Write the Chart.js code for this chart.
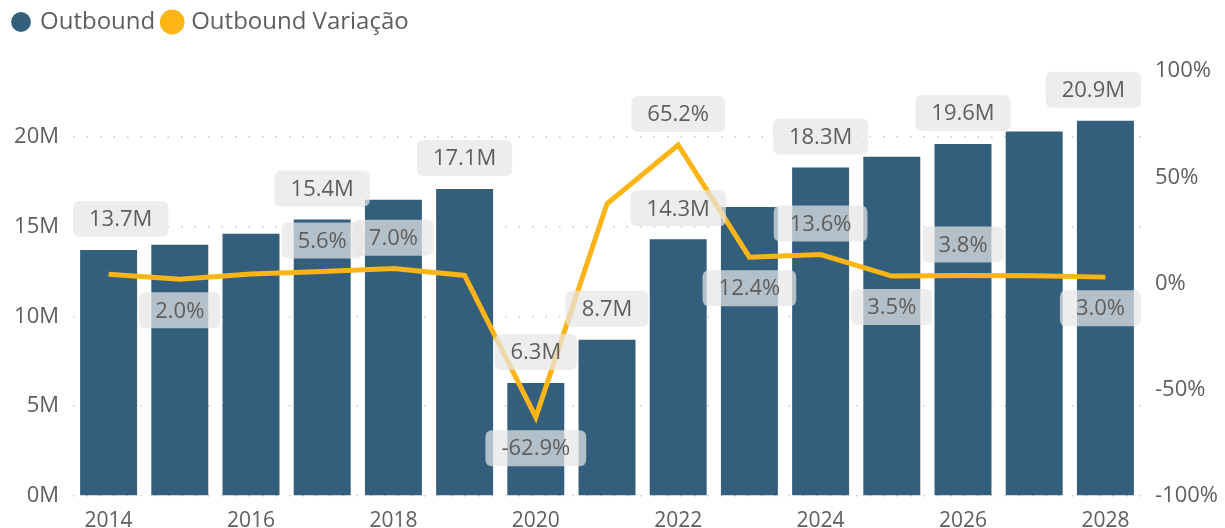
<!DOCTYPE html>
<html>
<head>
<meta charset="utf-8">
<script src="https://cdn.jsdelivr.net/npm/chart.js@4.4.0/dist/chart.umd.min.js"></script>
<style>
  html, body { margin: 0; padding: 0; background: #fff; }
  #wrap { width: 1225px; height: 528px; }
</style>
</head>
<body>
<div id="wrap"><canvas id="outboundChart"></canvas></div>
<script>
// data
var years = ["2014", "2015", "2016", "2017", "2018", "2019", "2020", "2021",
  "2022", "2023", "2024", "2025", "2026", "2027", "2028"];
var outbound = [13.7, 14.0, 14.6, 15.4, 16.5, 17.1, 6.3, 8.7, 14.3, 16.1, 18.3, 18.9, 19.6, 20.3, 20.9]; // millions
var variacao = [4.4, 2.0, 4.5, 5.6, 7.0, 3.8, -62.9, 37.5, 65.2, 12.4, 13.6, 3.5, 3.8, 3.6, 3.0]; // %

// which points get a data label (power bi hides the ones that collide)
var barLabelShown = [true, false, false, true, false, true, true, true, true, false, true, false, true, false, true];
var lineLabelSide = [null, "below", null, "above", "above", null, "below", null, "above", "below", "above", "below", "above", null, "below"];

var leftTicks = [0, 5, 10, 15, 20];
var rightTicks = [-100, -50, 0, 50, 100];

const textGrey = "#605E5C";
const barBlue = "#335F7D";
const lineYellow = "#FDB515";
const fontFam = "'Open Sans', 'Noto Sans', sans-serif";

function roundRect(ctx, x, y, w, h, r) {
  ctx.beginPath();
  ctx.moveTo(x + r, y);
  ctx.lineTo(x + w - r, y);
  ctx.quadraticCurveTo(x + w, y, x + w, y + r);
  ctx.lineTo(x + w, y + h - r);
  ctx.quadraticCurveTo(x + w, y + h, x + w - r, y + h);
  ctx.lineTo(x + r, y + h);
  ctx.quadraticCurveTo(x, y + h, x, y + h - r);
  ctx.lineTo(x, y + r);
  ctx.quadraticCurveTo(x, y, x + r, y);
  ctx.closePath();
}

// labels with the grey rounded box
const boxLabels = {
  id: "boxLabels",
  afterDatasetsDraw(chart) {
    const ctx = chart.ctx;
    const area = chart.chartArea;
    ctx.save();
    ctx.font = "22px " + fontFam;
    ctx.textBaseline = "middle";
    ctx.textAlign = "center";

    function drawBox(text, cx, cy) {
      const w = ctx.measureText(text).width + 32;
      const h = 36;
      let left = cx - w / 2;
      if (left < area.left) left = area.left;
      if (left + w > area.right) left = area.right - w;
      ctx.fillStyle = "rgba(230,230,230,0.72)";
      roundRect(ctx, left, cy - h / 2, w, h, 7);
      ctx.fill();
      ctx.fillStyle = textGrey;
      ctx.fillText(text, left + w / 2, cy + 1);
    }

    const barMeta = chart.getDatasetMeta(0);
    const lineMeta = chart.getDatasetMeta(1);

    barMeta.data.forEach((bar, i) => {
      if (!barLabelShown[i]) return;
      drawBox(outbound[i].toFixed(1) + "M", bar.x, bar.y - 31);
    });
    lineMeta.data.forEach((pt, i) => {
      const side = lineLabelSide[i];
      if (!side) return;
      const dy = side == "above" ? -31 : 31;
      drawBox(variacao[i].toFixed(1) + "%", pt.x, pt.y + dy);
    });
    ctx.restore();
  }
};

// push the plot down below the legend
const legendGap = {
  id: "legendGap",
  beforeInit(chart) {
    const fit = chart.legend.fit;
    chart.legend.fit = function () {
      fit.bind(chart.legend)();
      this.height += 27;
    };
  }
};

const ctx = document.getElementById("outboundChart").getContext("2d");
new Chart(ctx, {
  type: "bar",
  data: {
    labels: years,
    datasets: [
      {
        type: "bar",
        label: "Outbound",
        data: outbound,
        backgroundColor: barBlue,
        borderWidth: 0,
        categoryPercentage: 1,
        barPercentage: 0.8,
        yAxisID: "y",
        order: 1,
      },
      {
        type: "line",
        label: "Outbound Variação",
        data: variacao,
        borderColor: lineYellow,
        backgroundColor: lineYellow,
        borderWidth: 5,
        pointRadius: 0,
        tension: 0,
        yAxisID: "y1",
        order: 0,
      },
    ],
  },
  options: {
    responsive: true,
    maintainAspectRatio: false,
    animation: false,
    layout: { padding: { left: 4, right: 0, top: 0, bottom: 0 } },
    plugins: {
      tooltip: { enabled: false },
      legend: {
        position: "top",
        align: "start",
        labels: {
          usePointStyle: true,
          pointStyle: "circle",
          boxWidth: 14,
          boxHeight: 14,
          padding: 10,
          color: textGrey,
          font: { family: fontFam, size: 24 },
          sort: (a, b) => a.datasetIndex - b.datasetIndex,
        },
      },
    },
    scales: {
      x: {
        grid: { display: false },
        border: { display: false },
        ticks: {
          color: textGrey,
          font: { family: fontFam, size: 21 },
          autoSkip: false,
          maxRotation: 0,
          padding: 4,
          callback: function (val, i) {
            return i % 2 == 0 ? years[i] : "";
          },
        },
        afterFit: function (scale) { scale.height = 32; },
      },
      y: {
        position: "left",
        min: 0,
        max: 23.67,
        afterBuildTicks: function (scale) {
          scale.ticks = leftTicks.map((v) => ({ value: v }));
        },
        grid: { color: "#C8C8C8", lineWidth: 1.5, drawTicks: false },
        border: { display: false, dash: [1.5, 12] },
        ticks: {
          color: textGrey,
          font: { family: fontFam, size: 22 },
          padding: 14,
          callback: (v) => v + "M",
        },
        afterFit: function (scale) { scale.width = 69; },
      },
      y1: {
        position: "right",
        min: -100,
        max: 100,
        afterBuildTicks: function (scale) {
          scale.ticks = rightTicks.map((v) => ({ value: v }));
        },
        grid: { display: false, drawTicks: false },
        border: { display: false },
        ticks: {
          color: textGrey,
          font: { family: fontFam, size: 22 },
          padding: 14,
          callback: (v) => v + "%",
        },
        afterFit: function (scale) { scale.width = 84; },
      },
    },
  },
  plugins: [boxLabels, legendGap],
});
</script>
</body>
</html>
